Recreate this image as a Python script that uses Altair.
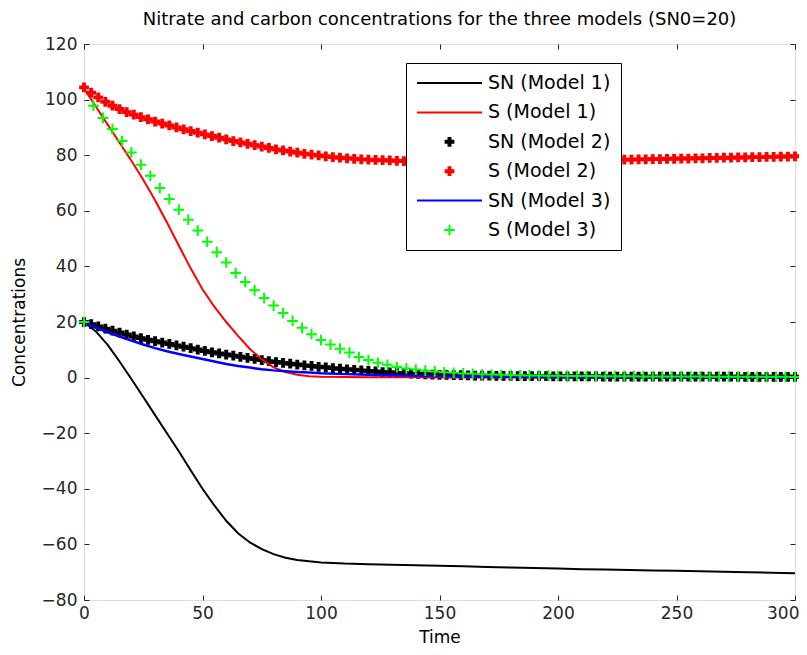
import altair as alt
import pandas as pd

# ---------------- data ----------------
SERIES = ["SN (Model 1)", "S (Model 1)", "SN (Model 2)", "S (Model 2)", "SN (Model 3)", "S (Model 3)"]
COLORS = ["#000000", "#ff0000", "#000000", "#ff0000", "#0000ff", "#00ff00"]

t_line = [0, 5, 10, 15, 20, 25, 30, 35, 40, 45, 50, 55, 60, 65, 70, 75, 80, 85, 90, 95, 100,
          110, 120, 130, 140, 150, 160, 170, 180, 190, 200, 210, 220, 230, 240, 250, 260, 270, 280, 290, 300]

sn_model1 = [20, 16.6, 11.8, 5.8, -0.5, -7, -13.5, -20, -26.5, -33.3, -40, -46, -51.5, -56, -59.3, -61.7,
             -63.5, -64.8, -65.6, -66.1, -66.5,
             -66.9, -67.1, -67.3, -67.5, -67.7, -67.9, -68.1, -68.3, -68.5, -68.7,
             -68.9, -69.0, -69.2, -69.4, -69.5, -69.7, -69.8, -70.0, -70.2, -70.4]

s_model1 = [104, 97.5, 91, 84.5, 78, 71.2, 63.8, 55.8, 47.5, 39.3, 31.8, 25.5, 20, 15, 10.3, 6.6,
            3.7, 2.0, 1.0, 0.5, 0.3,
            0.2, 0.15, 0.1, 0.1, 0.05, 0.05, 0.05, 0, 0, 0,
            0, 0, 0, 0, 0, 0, 0, 0, 0, 0]

sn_model3 = [20, 18, 16.3, 14.8, 13.3, 11.9, 10.6, 9.5, 8.5, 7.6, 6.7, 5.8, 4.9, 4.2, 3.6, 3.0,
             2.6, 2.3, 2.0, 1.8, 1.55,
             1.25, 1.0, 0.82, 0.66, 0.52, 0.42, 0.34, 0.28, 0.23, 0.19,
             0.16, 0.13, 0.11, 0.09, 0.08, 0.07, 0.06, 0.05, 0.04, 0.03]

t_model2 = [0, 3, 6, 9, 12, 15, 18, 21, 24, 27, 30, 33, 36, 39, 42, 45, 48, 51, 54, 57,
            60, 63, 66, 69, 72, 75, 78, 81, 84, 87, 90, 93, 96, 99, 102, 105, 108, 111, 114, 117,
            120, 123, 126, 129, 132, 135, 138, 141, 144, 147, 150, 153, 156, 159, 162, 165, 168, 171, 174, 177,
            180, 183, 186, 189, 192, 195, 198, 201, 204, 207, 210, 213, 216, 219, 222, 225, 228, 231, 234, 237,
            240, 243, 246, 249, 252, 255, 258, 261, 264, 267, 270, 273, 276, 279, 282, 285, 288, 291, 294, 297,
            300]

s_model2 = [104.4, 102.5, 100.8, 99.2, 97.8, 96.6, 95.5, 94.6, 93.7, 92.9,
            92.1, 91.4, 90.7, 90.0, 89.3, 88.7, 88.1, 87.5, 86.9, 86.3,
            85.7, 85.1, 84.6, 84.1, 83.6, 83.1, 82.6, 82.1, 81.7, 81.3,
            80.9, 80.5, 80.2, 79.9, 79.6, 79.3, 79.1, 78.9, 78.7, 78.5,
            78.4, 78.3, 78.2, 78.1, 78.0, 77.9, 77.9, 77.8, 77.8, 77.8,
            77.7, 77.7, 77.7, 77.7, 77.7, 77.7, 77.7, 77.7, 77.7, 77.7,
            77.8, 77.8, 77.8, 77.8, 77.9, 77.9, 77.9, 78.0, 78.0, 78.0,
            78.1, 78.1, 78.2, 78.2, 78.3, 78.3, 78.4, 78.4, 78.5, 78.5,
            78.6, 78.6, 78.7, 78.7, 78.8, 78.8, 78.9, 78.9, 79.0, 79.0,
            79.1, 79.1, 79.2, 79.2, 79.3, 79.3, 79.4, 79.4, 79.5, 79.5,
            79.6]

sn_model2 = [20, 19.2, 18.4, 17.6, 16.9, 16.2, 15.5, 14.8, 14.2, 13.6,
             13.1, 12.6, 12.1, 11.6, 11.1, 10.6, 10.1, 9.6, 9.1, 8.7,
             8.3, 7.9, 7.5, 7.1, 6.7, 6.3, 5.9, 5.6, 5.3, 5.0,
             4.7, 4.4, 4.2, 3.9, 3.7, 3.4, 3.2, 3.0, 2.8, 2.6,
             2.4, 2.2, 2.0, 1.9, 1.7, 1.6, 1.4, 1.3, 1.2, 1.1,
             1.0, 0.95, 0.9, 0.85, 0.8, 0.75, 0.7, 0.7, 0.65, 0.6,
             0.6, 0.55, 0.55, 0.5, 0.5, 0.5, 0.45, 0.45, 0.45, 0.4,
             0.4, 0.4, 0.4, 0.38, 0.38, 0.37, 0.37, 0.36, 0.36, 0.35,
             0.35, 0.34, 0.34, 0.33, 0.33, 0.33, 0.32, 0.32, 0.32, 0.31,
             0.31, 0.31, 0.3, 0.3, 0.3, 0.3, 0.29, 0.29, 0.29, 0.28,
             0.28]

t_model3 = [0, 4, 8, 12, 16, 20, 24, 28, 32, 36, 40, 44, 48, 52, 56, 60, 64, 68, 72, 76,
            80, 84, 88, 92, 96, 100, 104, 108, 112, 116, 120, 124, 128, 132, 136, 140, 144, 148, 152, 156,
            160, 164, 168, 172, 176, 180, 184, 188, 192, 196, 200, 204, 208, 212, 216, 220, 224, 228, 232, 236,
            240, 244, 248, 252, 256, 260, 264, 268, 272, 276, 280, 284, 288, 292, 296, 300]

s_model3 = [20, 97.8, 93.4, 89.4, 85.1, 81.0, 76.6, 72.6, 68.2, 64.2,
            60.4, 56.8, 52.9, 48.9, 45.1, 41.4, 37.6, 34.4, 31.4, 28.6,
            25.9, 23.2, 20.4, 17.9, 15.6, 13.5, 11.9, 10.4, 9.0, 7.4,
            6.3, 5.3, 4.6, 3.8, 3.3, 2.9, 2.5, 2.2, 1.9, 1.7,
            1.5, 1.35, 1.2, 1.1, 1.0, 0.9, 0.85, 0.8, 0.75, 0.7,
            0.65, 0.62, 0.6, 0.57, 0.55, 0.52, 0.5, 0.48, 0.46, 0.44,
            0.42, 0.4, 0.39, 0.38, 0.37, 0.36, 0.35, 0.34, 0.33, 0.32,
            0.31, 0.3, 0.29, 0.28, 0.27, 0.26]

x_ticks = [0, 50, 100, 150, 200, 250, 300]
y_ticks = [-80, -60, -40, -20, 0, 20, 40, 60, 80, 100, 120]


def frame(ts, vs, name):
    return pd.DataFrame({"t": ts, "v": vs, "series": name})


df_m1 = pd.concat([frame(t_line, sn_model1, SERIES[0]), frame(t_line, s_model1, SERIES[1])])
df_m2 = pd.concat([frame(t_model2, sn_model2, SERIES[2]), frame(t_model2, s_model2, SERIES[3])])
df_m3_line = frame(t_line, sn_model3, SERIES[4])
df_m3_pts = frame(t_model3, s_model3, SERIES[5])

# ---------------- styling ----------------
FONT = "DejaVu Sans"
BIG = 4225  # symbol area so that a [-1,1] path spans 65 px
LINE = "M-1,0L1,0"
THICK_PLUS = ("M-0.15,-0.03L0.15,-0.03M-0.15,0L0.15,0M-0.15,0.03L0.15,0.03"
              "M-0.03,-0.15L-0.03,0.15M0,-0.15L0,0.15M0.03,-0.15L0.03,0.15")
PLUS = "M-0.165,0L0.165,0M0,-0.165L0,0.165"
SHAPES = [LINE, LINE, THICK_PLUS, THICK_PLUS, LINE, PLUS]

color_scale = alt.Scale(domain=SERIES, range=COLORS)
shape_scale = alt.Scale(domain=SERIES, range=SHAPES)

x_scale = alt.Scale(domain=[0, 300], nice=False, zero=False)
y_scale = alt.Scale(domain=[-80, 120], nice=False, zero=False)

legend = alt.Legend(
    title=None, orient="none", legendX=322, legendY=19,
    symbolSize=BIG, symbolStrokeWidth=2, symbolFillColor="transparent",
    labelFont=FONT, labelFontSize=19, labelColor="#000000", labelOffset=5,
    padding=10, rowPadding=9.4, clipHeight=20, strokeColor="#000000", fillColor="#ffffff",
    symbolOffset=0, labelLimit=300, symbolOpacity=1,
)

axis_common = dict(grid=False, domain=False, tickSize=5, offset=-5, tickColor="#262626",
                   labelFont=FONT, labelFontSize=17, labelColor="#262626", labelFlush=False,
                   titleFont=FONT, titleFontSize=17, titleFontWeight="normal", titleColor="#000000")

x_axis = alt.Axis(
    values=x_ticks, title="Time", labelPadding=5, titlePadding=8,
    labelAlign=alt.condition("datum.value == 300", alt.value("right"), alt.value("center")),
    labelOffset=alt.condition("datum.value == 300", alt.value(4), alt.value(0)),
    **axis_common,
)
y_axis = alt.Axis(values=y_ticks, title="Concentrations", labelPadding=7, titlePadding=13, **axis_common)
x_top = alt.Axis(values=x_ticks, orient="top", labels=False, title=None, grid=False, domain=False,
                 tickSize=5, offset=-5, tickColor="#262626")
y_right = alt.Axis(values=y_ticks, orient="right", labels=False, title=None, grid=False, domain=False,
                   tickSize=5, offset=-5, tickColor="#262626")

layer_m1 = alt.Chart(df_m1).mark_line(strokeWidth=2).encode(
    x=alt.X("t:Q", scale=x_scale, axis=x_axis),
    y=alt.Y("v:Q", scale=y_scale, axis=y_axis),
    color=alt.Color("series:N", scale=color_scale, legend=legend),
)

layer_m2 = alt.Chart(df_m2).mark_point(filled=False, size=BIG, strokeWidth=2, opacity=1).encode(
    x=alt.X("t:Q", scale=x_scale, axis=x_top),
    y=alt.Y("v:Q", scale=y_scale, axis=y_right),
    color=alt.Color("series:N", scale=color_scale, legend=legend),
    shape=alt.Shape("series:N", scale=shape_scale, legend=legend),
)

layer_m3_line = alt.Chart(df_m3_line).mark_line(strokeWidth=2.5).encode(
    x=alt.X("t:Q", scale=x_scale, axis=None),
    y=alt.Y("v:Q", scale=y_scale, axis=None),
    color=alt.Color("series:N", scale=color_scale, legend=legend),
)

layer_m3_pts = alt.Chart(df_m3_pts).mark_point(filled=False, size=BIG, strokeWidth=2, opacity=1).encode(
    x=alt.X("t:Q", scale=x_scale, axis=None),
    y=alt.Y("v:Q", scale=y_scale, axis=None),
    color=alt.Color("series:N", scale=color_scale, legend=legend),
    shape=alt.Shape("series:N", scale=shape_scale, legend=legend),
)

chart = alt.layer(layer_m2, layer_m1, layer_m3_line, layer_m3_pts).resolve_axis(
    x="independent", y="independent"
).properties(
    width=711, height=556,
    padding={"left": 76, "top": 36, "right": 4, "bottom": 47},
    autosize=alt.AutoSizeParams(type="none"),
    title=alt.TitleParams(
        "Nitrate and carbon concentrations for the three models (SN0=20)",
        font=FONT, fontSize=18, fontWeight="normal", color="#000000",
        anchor="middle", offset=6,
    ),
).configure_view(stroke="#262626", strokeWidth=1.2).configure(background="white")

chart.save("out.html", embed_options={"renderer": "svg", "actions": False})
